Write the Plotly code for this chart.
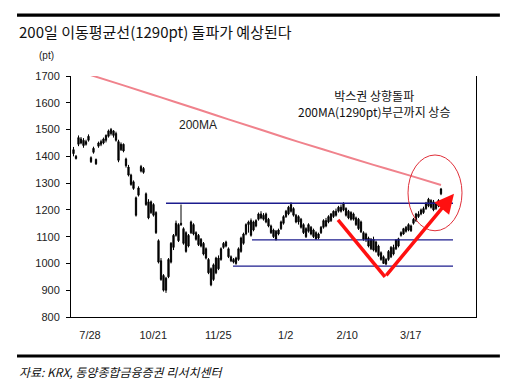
import plotly.graph_objects as go

# ---------------- data ----------------
day_index = list(range(148))

high = [1435, 1405, 1478, 1472, 1468, 1462, 1482, 1400, 1436, 1392,
        1455, 1462, 1470, 1482, 1500, 1506, 1498, 1492, 1462, 1452,
        1448, 1395, 1368, 1335, 1310, 1250, 1288, 1368, 1360, 1265,
        1240, 1235, 1225, 1195, 1090, 1020, 960, 950, 1020, 1080,
        1110, 1160, 1150, 1220, 1135, 1120, 1110, 1160, 1150, 1120,
        1110, 1095, 1080, 1060, 1020, 985, 1000, 1025, 1030, 1060,
        1080, 1085, 1060, 1030, 1020, 1025, 1060, 1100, 1115, 1150,
        1160, 1168, 1160, 1165, 1190, 1195, 1188, 1190, 1170, 1145,
        1130, 1125, 1130, 1160, 1180, 1200, 1215, 1228, 1210, 1185,
        1180, 1170, 1150, 1135, 1150, 1140, 1130, 1120, 1115, 1140,
        1165, 1170, 1180, 1188, 1198, 1205, 1215, 1220, 1228, 1210,
        1200, 1195, 1190, 1175, 1170, 1160, 1120, 1115, 1100, 1095,
        1100, 1085, 1070, 1045, 1030, 1020, 1050, 1065, 1070, 1090,
        1096, 1120, 1133, 1140, 1150, 1145, 1170, 1189, 1195, 1205,
        1212, 1230, 1245, 1240, 1237, 1230, 1240, 1282]

low = [1400, 1388, 1438, 1445, 1432, 1440, 1455, 1375, 1410, 1368,
       1432, 1438, 1445, 1452, 1470, 1478, 1470, 1455, 1378, 1420,
       1415, 1358, 1325, 1290, 1275, 1175, 1250, 1340, 1335, 1215,
       1165, 1185, 1175, 1110, 1000, 935, 895, 890, 945, 1000,
       1050, 1100, 1080, 1140, 1070, 1040, 1060, 1110, 1105, 1085,
       1065, 1060, 1030, 1015, 960, 915, 935, 960, 975, 1010,
       1055, 1060, 1020, 1005, 1000, 995, 1010, 1040, 1070, 1105,
       1115, 1100, 1120, 1135, 1160, 1165, 1160, 1150, 1135, 1110,
       1095, 1085, 1105, 1125, 1145, 1170, 1180, 1190, 1175, 1150,
       1145, 1130, 1110, 1095, 1115, 1105, 1095, 1088, 1090, 1110,
       1130, 1135, 1150, 1155, 1170, 1175, 1190, 1190, 1195, 1175,
       1165, 1160, 1160, 1140, 1125, 1114, 1085, 1080, 1060, 1050,
       1045, 1040, 1025, 1010, 998, 993, 1010, 1020, 1030, 1050,
       1060, 1100, 1107, 1115, 1120, 1118, 1145, 1155, 1170, 1180,
       1185, 1200, 1210, 1205, 1195, 1200, 1210, 1255]

open_ = [1410, 1400, 1445, 1465, 1460, 1445, 1460, 1395, 1415, 1388,
         1438, 1445, 1450, 1460, 1475, 1485, 1495, 1485, 1455, 1425,
         1445, 1390, 1360, 1330, 1305, 1245, 1255, 1345, 1355, 1260,
         1230, 1190, 1220, 1190, 1085, 1010, 955, 900, 950, 1005,
         1060, 1105, 1145, 1150, 1130, 1115, 1065, 1115, 1145, 1115,
         1105, 1090, 1075, 1055, 1015, 980, 940, 965, 1020, 1015,
         1060, 1080, 1055, 1025, 1015, 1000, 1015, 1045, 1075, 1110,
         1145, 1160, 1125, 1140, 1165, 1185, 1180, 1155, 1165, 1140,
         1125, 1120, 1110, 1130, 1150, 1175, 1185, 1195, 1205, 1180,
         1155, 1165, 1145, 1130, 1120, 1135, 1125, 1115, 1095, 1115,
         1135, 1160, 1155, 1160, 1175, 1195, 1195, 1210, 1200, 1205,
         1195, 1165, 1185, 1170, 1165, 1155, 1115, 1090, 1095, 1055,
         1090, 1080, 1065, 1040, 1025, 998, 1015, 1025, 1060, 1055,
         1065, 1105, 1110, 1135, 1125, 1140, 1150, 1160, 1185, 1185,
         1205, 1205, 1215, 1235, 1230, 1205, 1215, 1260]

close = [1425, 1392, 1470, 1450, 1440, 1455, 1475, 1380, 1430, 1372,
         1450, 1455, 1465, 1478, 1495, 1500, 1478, 1460, 1385, 1445,
         1420, 1365, 1330, 1295, 1280, 1180, 1282, 1362, 1340, 1220,
         1170, 1230, 1180, 1115, 1005, 940, 900, 945, 1015, 1075,
         1105, 1150, 1085, 1145, 1075, 1045, 1105, 1155, 1110, 1090,
         1070, 1065, 1035, 1020, 965, 920, 995, 1020, 980, 1055,
         1075, 1065, 1025, 1010, 1005, 1020, 1055, 1095, 1110, 1145,
         1155, 1105, 1155, 1160, 1185, 1170, 1165, 1185, 1140, 1115,
         1100, 1090, 1125, 1155, 1175, 1195, 1210, 1220, 1180, 1155,
         1175, 1135, 1115, 1100, 1145, 1110, 1100, 1092, 1110, 1135,
         1160, 1140, 1175, 1185, 1195, 1180, 1210, 1195, 1225, 1180,
         1170, 1190, 1165, 1145, 1130, 1118, 1090, 1110, 1065, 1090,
         1050, 1045, 1030, 1015, 1000, 1015, 1045, 1060, 1035, 1088,
         1092, 1115, 1130, 1120, 1145, 1122, 1165, 1185, 1175, 1200,
         1190, 1225, 1240, 1210, 1200, 1225, 1235, 1278]

# 200-day moving average, read at a few positions
ma_index = [5, 20, 35, 50, 62, 75, 90, 105, 120, 135, 147]
ma_value = [1709, 1665, 1620, 1575, 1538, 1499, 1454, 1411, 1368, 1327, 1293]

# horizontal box lines: (level, start index, end index)
box_levels = [1225, 1088, 990]
box_starts = [37, 71.4, 63.8]
box_end = 151.8

# V-shaped arrow: start, bottom, tip (index, level)
v_index = [105.8, 124.6, 152.2]
v_level = [1163, 950, 1260]

tick_pos = [6.6, 31.9, 57.9, 84.9, 109.5, 134.9]
tick_text = ["7/28", "10/21", "11/25", "1/2", "2/10", "3/17"]

# ---------------- figure ----------------
NAVY = "#1c1c8e"
fig = go.Figure()

fig.add_trace(go.Candlestick(
    x=day_index, open=open_, high=high, low=low, close=close,
    increasing=dict(line=dict(color="black", width=1), fillcolor="black"),
    decreasing=dict(line=dict(color="black", width=1), fillcolor="black"),
    showlegend=False, hoverinfo="skip",
))

fig.add_trace(go.Scatter(
    x=ma_index, y=ma_value, mode="lines",
    line=dict(color="#f0828c", width=2, shape="spline"),
    showlegend=False, hoverinfo="skip",
))

for lvl, st in zip(box_levels, box_starts):
    fig.add_trace(go.Scatter(
        x=[st, box_end], y=[lvl, lvl], mode="lines",
        line=dict(color=NAVY, width=1.4),
        showlegend=False, hoverinfo="skip",
    ))

# first leg of the V
fig.add_trace(go.Scatter(
    x=v_index[:2], y=v_level[:2], mode="lines",
    line=dict(color="#ff1010", width=3.5),
    showlegend=False, hoverinfo="skip",
))
# second leg with arrow head
fig.add_annotation(
    x=v_index[2], y=v_level[2], ax=v_index[1], ay=v_level[1],
    xref="x", yref="y", axref="x", ayref="y",
    showarrow=True, arrowhead=2, arrowsize=1.1, arrowwidth=3.5,
    arrowcolor="#ff1010", text="",
)

# red ellipse
fig.add_shape(type="circle", xref="x", yref="y",
              x0=133.8, x1=155.4, y0=1122, y1=1405,
              line=dict(color="#e0303a", width=1))

# decorative rules
fig.add_shape(type="line", xref="paper", yref="paper",
              x0=-0.1333, x1=1.059, y0=1.253, y1=1.253,
              line=dict(color="black", width=3.2))
fig.add_shape(type="line", xref="paper", yref="paper",
              x0=-0.1333, x1=1.059, y0=-0.1618, y1=-0.1618,
              line=dict(color="black", width=3.2))

KR = "Noto Sans CJK KR"
fig.add_annotation(xref="paper", yref="paper", x=-0.1333, y=1.1838,
                   xanchor="left", yanchor="middle", showarrow=False,
                   text="200일 이동평균선(1290pt) 돌파가 예상된다",
                   font=dict(family=KR, size=15, color="#111"))
fig.add_annotation(xref="paper", yref="paper", x=-0.1333, y=-0.228,
                   xanchor="left", yanchor="middle", showarrow=False,
                   text="<i>자료: KRX, 동양종합금융증권 리서치센터</i>",
                   font=dict(family=KR, size=12, color="#111"))
fig.add_annotation(xref="paper", yref="paper", x=-0.0593, y=1.087,
                   xanchor="center", yanchor="middle", showarrow=False,
                   text="(pt)",
                   font=dict(family="Liberation Sans", size=10, color="#222"))
fig.add_annotation(xref="paper", yref="paper", x=0.3136, y=0.797,
                   xanchor="center", yanchor="middle", showarrow=False,
                   text="200MA",
                   font=dict(family="Liberation Sans", size=12, color="#222"))
fig.add_annotation(xref="paper", yref="paper", x=0.748, y=0.884,
                   xanchor="center", yanchor="middle", showarrow=False,
                   align="center",
                   text="박스권 상향돌파<br>200MA(1290pt)부근까지 상승",
                   font=dict(family=KR, size=12, color="#111"))

# the page body has an 8px default margin, so the figure is sized and
# offset to land where the reference places its elements
fig.update_layout(
    width=502, height=384,
    margin=dict(l=63, r=34, t=68, b=75),
    paper_bgcolor="white", plot_bgcolor="white",
    showlegend=False,
    font=dict(family="Liberation Sans", size=11, color="#222"),
    xaxis=dict(range=[-1, 161], rangeslider=dict(visible=False),
               showgrid=False, zeroline=False,
               showline=True, linecolor="black", linewidth=1,
               tickvals=tick_pos, ticktext=tick_text, ticks="",
               ticklabelstandoff=8,
               tickfont=dict(family="Liberation Sans", size=11, color="#222")),
    yaxis=dict(range=[800, 1700], dtick=100, tick0=800,
               showgrid=False, zeroline=False,
               showline=True, mirror=True, linecolor="black", linewidth=1,
               ticks="outside", ticklen=4, tickcolor="black",
               ticklabelstandoff=4,
               tickfont=dict(family="Liberation Sans", size=11, color="#222")),
)

fig.write_html("out.html")
